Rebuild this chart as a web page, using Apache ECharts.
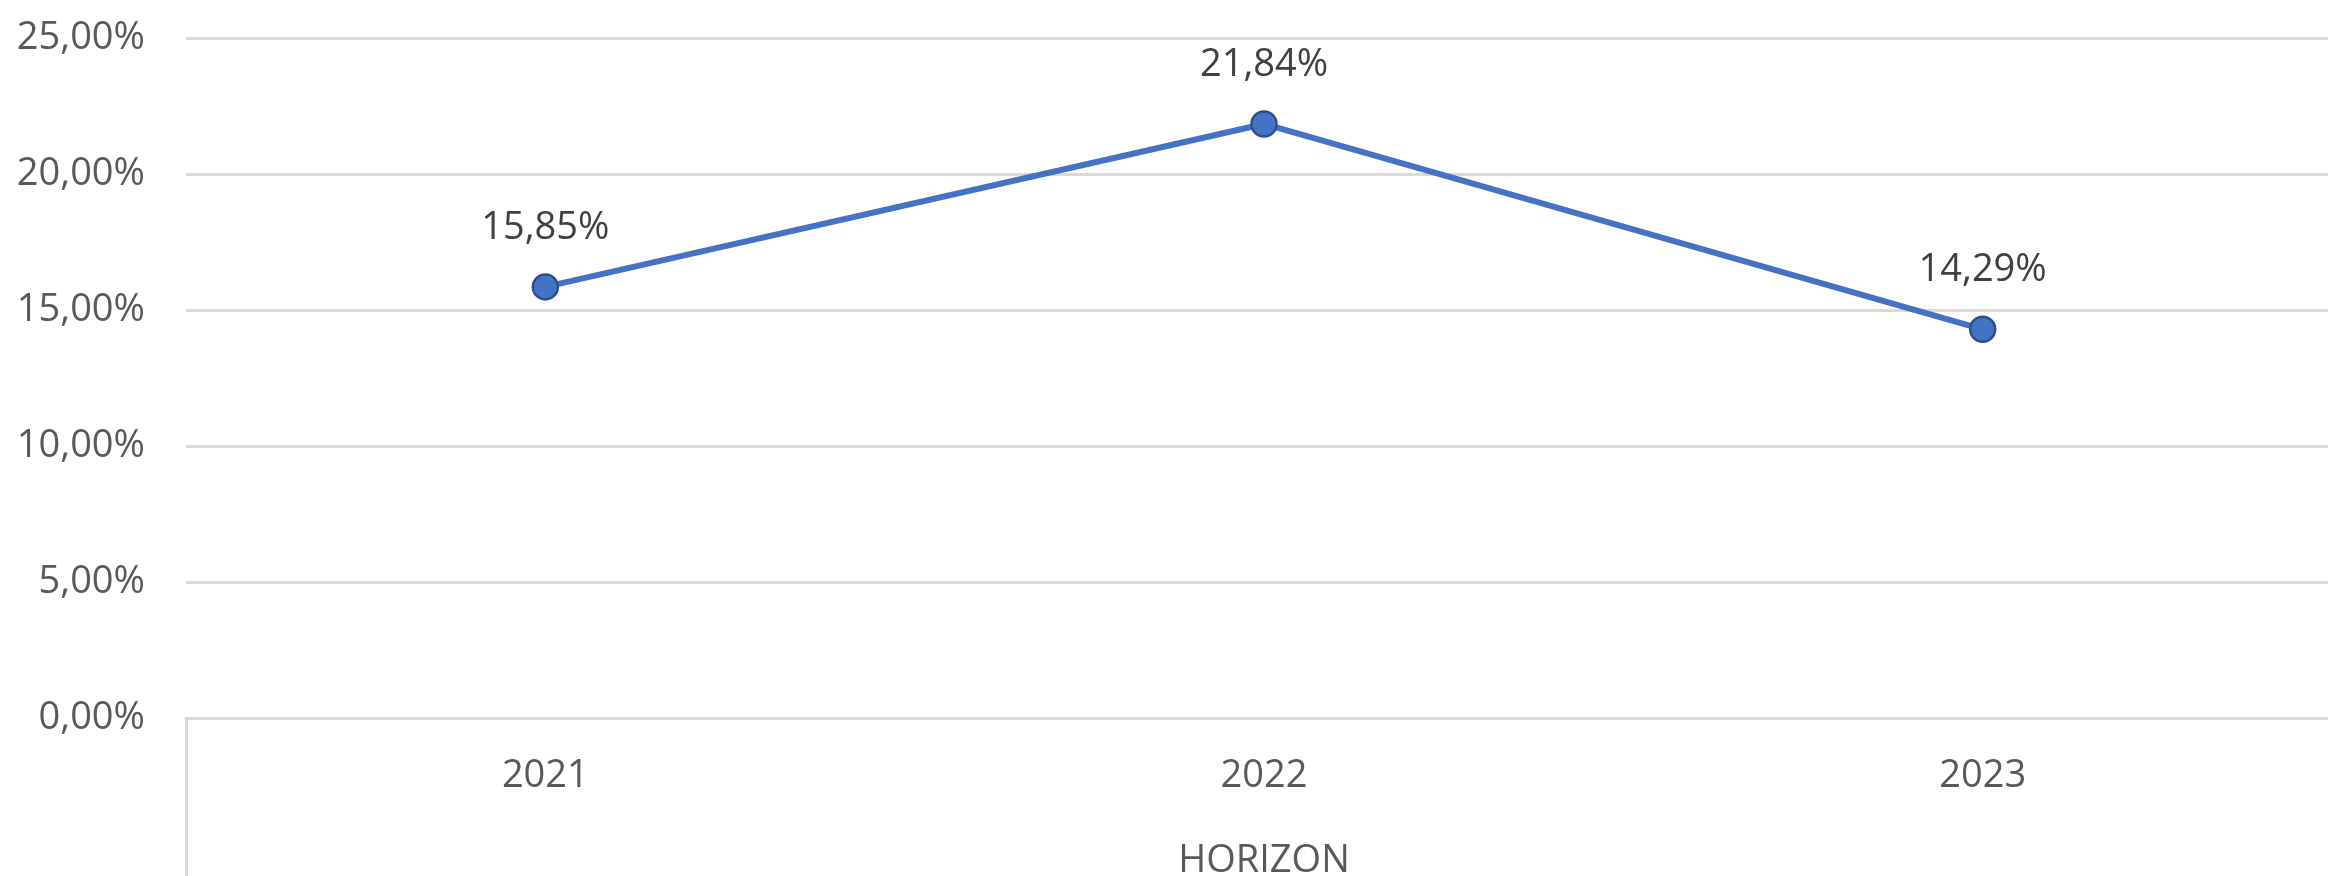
<!DOCTYPE html>
<html>
<head>
<meta charset="utf-8">
<script src="https://cdn.jsdelivr.net/npm/echarts@6/dist/echarts.min.js"></script>
<style>
html,body{margin:0;padding:0;background:#fff;}
#chart{width:2328px;height:876px;}
</style>
</head>
<body>
<div id="chart"></div>
<script>
const categories = ['2021', '2022', '2023'];
const values = [15.85, 21.84, 14.29];
const axisName = 'HORIZON';
const yMin = 0, yMax = 25, yStep = 5;

const fmt = v => v.toFixed(2).replace('.', ',') + '%';
const font = '"Open Sans", "Noto Sans", sans-serif';

const chart = echarts.init(document.getElementById('chart'), null, {renderer: 'canvas'});
chart.setOption({
  backgroundColor: '#ffffff',
  animation: false,
  grid: {left: 186, width: 2156, top: 38, height: 680, containLabel: false, outerBoundsMode: 'none'},
  xAxis: {
    type: 'category',
    data: categories,
    boundaryGap: true,
    name: axisName,
    nameLocation: 'middle',
    nameGap: 124,
    nameTextStyle: {color: '#595959', fontSize: 38, fontFamily: font},
    axisLine: {show: true, lineStyle: {color: '#d9d9d9', width: 3}},
    axisTick: {show: true, length: 160, interval: (i) => i === 0, lineStyle: {color: '#d9d9d9', width: 3}},
    axisLabel: {color: '#595959', fontSize: 38, fontFamily: font, margin: 39},
    splitLine: {show: false}
  },
  yAxis: {
    type: 'value',
    min: yMin, max: yMax, interval: yStep,
    axisLine: {show: false},
    axisTick: {show: false},
    axisLabel: {color: '#595959', fontSize: 38, fontFamily: font, margin: 41, formatter: fmt},
    splitLine: {show: true, lineStyle: {color: '#d9d9d9', width: 3}}
  },
  series: [{
    type: 'line',
    data: values,
    symbol: 'circle',
    symbolSize: 25,
    lineStyle: {color: '#4472C4', width: 6},
    itemStyle: {color: '#4472C4', borderColor: '#2F4F8A', borderWidth: 2.5},
    label: {show: true, position: 'top', distance: 26, color: '#404040', fontSize: 38, fontFamily: font, formatter: p => fmt(p.value)}
  }]
});
</script>
</body>
</html>
